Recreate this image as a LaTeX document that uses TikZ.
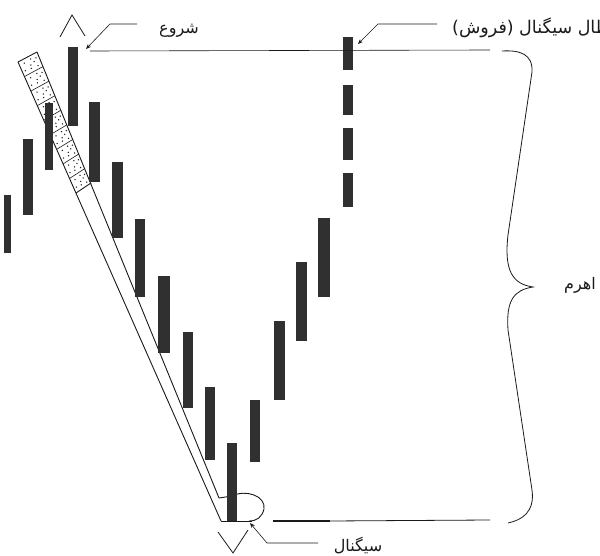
\documentclass[tikz,border=0pt]{standalone}
\usepackage{fontspec}
\newfontfamily\arabicfont[Script=Arabic]{DejaVu Sans}
\TeXXeTstate=1
\usetikzlibrary{calc,arrows.meta}
\definecolor{barcol}{HTML}{303030}
\definecolor{ink}{HTML}{1A1A1A}
\begin{document}
\begin{tikzpicture}[x=1pt,y=-1pt,
  barfill/.style={fill=barcol,draw=none},
  poleline/.style={draw=ink,line width=0.9pt},
  thinline/.style={draw=ink,line width=0.6pt},
  lbl/.style={font=\arabicfont\fontsize{16}{18}\selectfont,inner sep=0pt,text=ink},
  leader/.style={draw=ink,line width=0.6pt,-{Stealth[length=5pt,width=4pt]}},
]
\useasboundingbox[fill=white] (0,0) rectangle (600,556);

% golf club (lever), drawn first so that the bars lie over it
\coordinate (gTL) at (18,62);
\coordinate (gTR) at (37,52);
\coordinate (gBL) at (76,193);
\coordinate (gBR) at (91,183);
\coordinate (sBL) at (221,521);
\coordinate (sBR) at (219,498);
\draw[poleline] (gTL) -- (gTR);
\draw[poleline] (gTL) -- (sBL);
\draw[poleline] (gTR) -- (sBR);
\draw[poleline] (gBL) -- (gBR);
\foreach \k in {1,...,8} {
  \pgfmathsetmacro\t{\k/9}
  \draw[thinline] ({18+58*\t},{62+131*\t}) -- ({37+54*\t},{52+131*\t});
}
\foreach \k in {0,...,8} {
  \foreach \u/\v in {0.25/0.25, 0.45/0.7, 0.75/0.45, 0.3/0.85, 0.7/0.15, 0.55/0.5, 0.2/0.6, 0.8/0.8} {
    \pgfmathsetmacro\t{(\k+\u)/9}
    \fill[ink] ({18+58*\t+\v*(19-4*\t)},{62+131*\t-10*\v}) circle (0.75);
  }
}
% club head
\draw[poleline] (sBR) -- (232,496) .. controls (246,489) and (266,496) .. (264,509)
  .. controls (262,517) and (257,521) .. (249,521);
\draw[poleline] (sBL) -- (252,521);

% candle bars
\foreach \a/\b/\c/\d in {4/11/195/253, 23/33/139/215, 45/53/103/170, 68/78/47/126,
  89/100/102/182, 112/123/162/238, 135/145/219/297, 158/170/276/353,
  183/193/332/408, 205/215/387/460, 227/237/443/521, 250/260/400/462,
  274/285/321/400, 296/307/262/341, 318/330/218/297}
  \fill[barfill] (\a,\c) rectangle (\b,\d);
% dashed bar
\foreach \c/\d in {37/70, 85/115, 128/160, 173/207}
  \fill[barfill] (343,\c) rectangle (353,\d);

% horizontal reference lines
\coordinate (topL) at (90,51);
\coordinate (topR) at (490,50);
\draw[thinline] (topL) -- (topR);
\coordinate (botL) at (273,521);
\coordinate (botM) at (330,521);
\coordinate (botR) at (490,520);
\draw[draw=ink,line width=1.4pt] (botL) -- (botM);
\draw[draw=ink,line width=0.8pt] (botM) -- (botR);

% carets
\draw[thinline,line width=0.8pt] (60,37) -- (72,15) -- (85,36);
\draw[thinline,line width=0.8pt] (218,532) -- (233,553) -- (248,530);

% brace
\draw[thinline,line width=0.8pt] (502,51) .. controls (520,50) and (533,54) .. (532,72)
  -- (508,235) .. controls (504,270) and (512,284) .. (533,287)
  .. controls (514,290) and (506,300) .. (508,330)
  -- (532,490) .. controls (535,512) and (522,520) .. (508,523);

% labels
\node[lbl] (start) at (179,31) {\beginR شروع\endR};
\node[lbl,anchor=west,font=\arabicfont\fontsize{17.5}{20}\selectfont] (sell) at (452,28) {\beginR ابطال سیگنال (فروش)\endR};
\node[lbl] (sig) at (358,546) {\beginR سیگنال\endR};
\node[lbl] (lever) at (580,285) {\beginR اهرم\endR};

% leaders
\coordinate (startTail) at (137,24);
\coordinate (startTip) at (86,49);
\draw[leader] (startTail) -- (110,24) -- (startTip);
\coordinate (sellTail) at (437,24);
\coordinate (sellTip) at (358,44);
\draw[leader] (sellTail) -- (378,24) -- (sellTip);
\coordinate (sigTail) at (318,543);
\coordinate (sigTip) at (250,523);
\draw[leader] (sigTail) -- (267,543) -- (sigTip);
\end{tikzpicture}
\end{document}
